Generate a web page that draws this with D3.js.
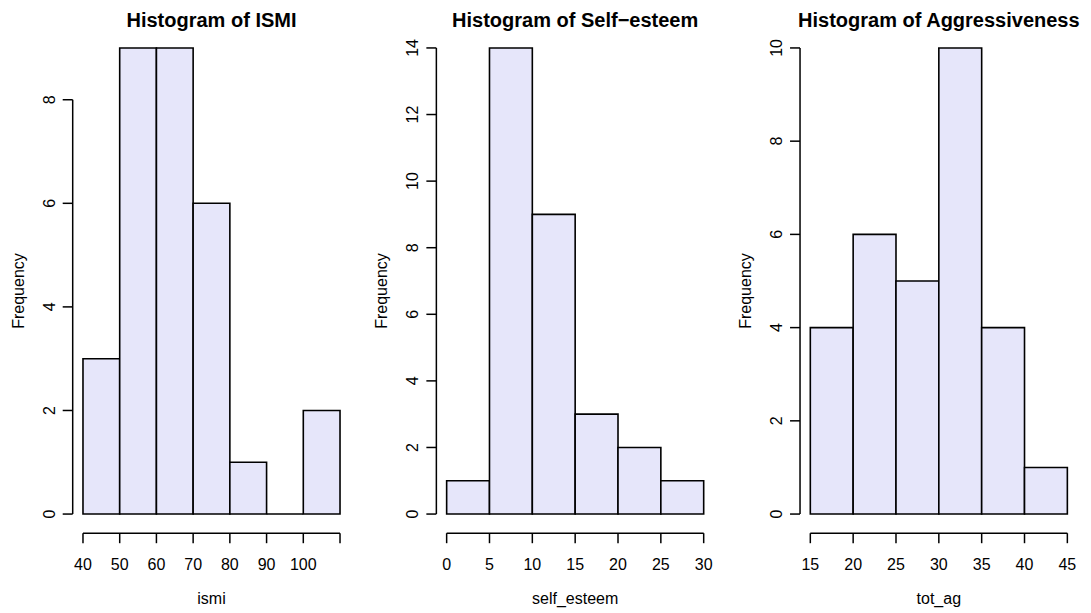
<!DOCTYPE html>
<html>
<head>
<meta charset="utf-8">
<script src="https://cdn.jsdelivr.net/npm/d3@7"></script>
<style>
  body { margin: 0; background: #fff; }
  svg text { font-family: "Liberation Sans", Arial, sans-serif; fill: #000; }
</style>
</head>
<body>
<svg id="chart" width="1091" height="613"></svg>
<script>
// ISMI
const ismiBreaks = [40, 50, 60, 70, 80, 90, 100, 110];
const ismiCounts = [3, 9, 9, 6, 1, 0, 2];
const ismiXTicks = [40, 50, 60, 70, 80, 90, 100, 110];
const ismiXLabels = ["40", "50", "60", "70", "80", "90", "100", ""];
const ismiYTicks = [0, 2, 4, 6, 8];

// Self-esteem
const selfBreaks = [0, 5, 10, 15, 20, 25, 30];
const selfCounts = [1, 14, 9, 3, 2, 1];
const selfXTicks = [0, 5, 10, 15, 20, 25, 30];
const selfYTicks = [0, 2, 4, 6, 8, 10, 12, 14];

// Aggressiveness
const aggBreaks = [15, 20, 25, 30, 35, 40, 45];
const aggCounts = [4, 6, 5, 10, 4, 1];
const aggXTicks = [15, 20, 25, 30, 35, 40, 45];
const aggYTicks = [0, 2, 4, 6, 8, 10];

const panels = [
    {title: "Histogram of ISMI", xlab: "ismi", breaks: ismiBreaks, counts: ismiCounts,
     xticks: ismiXTicks, xlabels: ismiXLabels, yticks: ismiYTicks},
    {title: "Histogram of Self\u2212esteem", xlab: "self_esteem", breaks: selfBreaks, counts: selfCounts,
     xticks: selfXTicks, xlabels: selfXTicks.map(String), yticks: selfYTicks},
    {title: "Histogram of Aggressiveness", xlab: "tot_ag", breaks: aggBreaks, counts: aggCounts,
     xticks: aggXTicks, xlabels: aggXTicks.map(String), yticks: aggYTicks}
];

const svg = d3.select("#chart");
const panel_w = 1091 / 3;
const plot = {left: 72.7, right: 350.3, top: 29.3, bottom: 532.7};
const tick_len = 10;

panels.forEach((p, i) => {
    let g = svg.append("g").attr("transform", `translate(${i * panel_w},0)`);

    let lo = p.breaks[0], hi = p.breaks[p.breaks.length - 1];
    let pad = 0.04 * (hi - lo);
    let x = d3.scaleLinear().domain([lo - pad, hi + pad]).range([plot.left, plot.right]);
    let ymax = d3.max(p.counts);
    let y = d3.scaleLinear().domain([-0.04 * ymax, 1.04 * ymax]).range([plot.bottom, plot.top]);

    let bins = p.counts.map((c, k) => ({x0: p.breaks[k], x1: p.breaks[k + 1], n: c}));

    // paths so that empty bins still show as a flat line
    g.selectAll("path.bar").data(bins).enter().append("path")
        .attr("class", "bar")
        .attr("d", d => `M${x(d.x0)},${y(0)}H${x(d.x1)}V${y(d.n)}H${x(d.x0)}Z`)
        .attr("fill", "#e6e6fa")
        .attr("stroke", "#000")
        .attr("stroke-width", 1.6)
        .attr("stroke-linejoin", "miter");

    // x axis
    let xa = g.append("g").attr("stroke", "#000").attr("stroke-width", 1.5);
    xa.append("line")
        .attr("x1", x(p.xticks[0])).attr("x2", x(p.xticks[p.xticks.length - 1]))
        .attr("y1", plot.bottom + 0.5).attr("y2", plot.bottom + 0.5);
    xa.selectAll("line.tk").data(p.xticks).enter().append("line")
        .attr("class", "tk")
        .attr("x1", d => x(d)).attr("x2", d => x(d))
        .attr("y1", plot.bottom + 0.5).attr("y2", plot.bottom + 0.5 + tick_len);
    g.selectAll("text.xl").data(p.xticks).enter().append("text")
        .attr("class", "xl")
        .attr("x", d => x(d))
        .attr("y", 570)
        .attr("text-anchor", "middle")
        .attr("font-size", 16)
        .text((d, k) => p.xlabels[k]);

    // y axis
    let ya = g.append("g").attr("stroke", "#000").attr("stroke-width", 1.5);
    ya.append("line")
        .attr("x1", plot.left).attr("x2", plot.left)
        .attr("y1", y(0)).attr("y2", y(p.yticks[p.yticks.length - 1]));
    ya.selectAll("line.tk").data(p.yticks).enter().append("line")
        .attr("class", "tk")
        .attr("x1", plot.left - tick_len).attr("x2", plot.left)
        .attr("y1", d => y(d)).attr("y2", d => y(d));
    g.selectAll("text.yl").data(p.yticks).enter().append("text")
        .attr("class", "yl")
        .attr("transform", d => `translate(54.5,${y(d)}) rotate(-90)`)
        .attr("text-anchor", "middle")
        .attr("font-size", 16)
        .text(d => d);

    // labels
    g.append("text")
        .attr("x", (plot.left + plot.right) / 2)
        .attr("y", 27)
        .attr("text-anchor", "middle")
        .attr("font-size", 20)
        .attr("font-weight", "bold")
        .text(p.title);
    g.append("text")
        .attr("x", (plot.left + plot.right) / 2)
        .attr("y", 604)
        .attr("text-anchor", "middle")
        .attr("font-size", 16)
        .text(p.xlab);
    g.append("text")
        .attr("transform", `translate(23.5,${(plot.top + plot.bottom) / 2 + 10}) rotate(-90)`)
        .attr("text-anchor", "middle")
        .attr("font-size", 16)
        .text("Frequency");
});
</script>
</body>
</html>
